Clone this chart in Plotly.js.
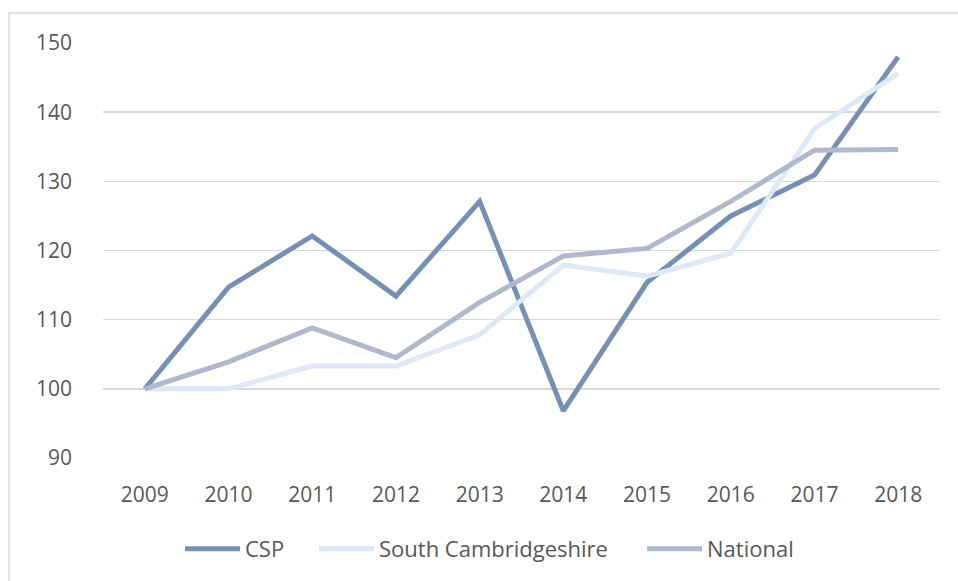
<!DOCTYPE html>
<html>
<head>
<meta charset="utf-8">
<script src="https://cdn.plot.ly/plotly-3.0.1.min.js"></script>
<style>
html,body{margin:0;padding:0;background:#fff;}
#chart{width:958px;height:581px;}
</style>
</head>
<body>
<div id="chart"></div>
<script>
const years = ['2009','2010','2011','2012','2013','2014','2015','2016','2017','2018'];
const csp = [100, 114.7, 122.1, 113.4, 127.1, 96.8, 115.4, 125.0, 130.9, 148.0];
const southCambs = [100, 100, 103.3, 103.3, 107.8, 117.9, 116.3, 119.6, 137.6, 145.6];
const national = [100, 103.9, 108.8, 104.5, 112.5, 119.2, 120.3, 127.1, 134.5, 134.6];
const seriesNames = ['CSP', 'South Cambridgeshire', 'National'];
const seriesColors = ['#7590b6', '#dde9f6', '#aebacc'];
const yTicks = [90, 100, 110, 120, 130, 140, 150];

const fontFamily = '"Open Sans", "Noto Sans", sans-serif';
const tickFont = {family: fontFamily, size: 21, color: '#595959'};
const legendFont = {family: fontFamily, size: 22, color: '#595959'};

const legendKeys = ['legend', 'legend2', 'legend3'];
// left edge of each legend entry, in pixels
const legendLeftPx = [180, 314, 642];

const seriesData = [csp, southCambs, national];
const traces = seriesData.map((vals, i) => ({
  type: 'scatter',
  mode: 'lines',
  x: years,
  y: vals,
  name: seriesNames[i],
  legend: legendKeys[i],
  line: {color: seriesColors[i], width: 5},
  hoverinfo: 'x+y+name'
}));

const plotL = 103, plotW = 837, plotT = 43, plotH = 416;

const layout = {
  width: 958, height: 581,
  margin: {l: plotL, r: 958 - plotL - plotW, t: plotT, b: 581 - plotT - plotH, pad: 0},
  paper_bgcolor: '#ffffff',
  plot_bgcolor: '#ffffff',
  font: tickFont,
  showlegend: true,
  xaxis: {
    type: 'category',
    range: [-0.5, 9.5],
    showgrid: false,
    zeroline: false,
    showline: false,
    ticks: '',
    ticklabelstandoff: 22,
    tickfont: tickFont,
    fixedrange: true
  },
  yaxis: {
    range: [90, 150],
    tickvals: yTicks,
    ticktext: yTicks.map(String),
    showgrid: true,
    gridcolor: '#d9d9d9',
    gridwidth: 1.5,
    zeroline: false,
    showline: false,
    ticks: '',
    ticklabelstandoff: 30,
    tickfont: tickFont,
    fixedrange: true
  },
  shapes: [{
    type: 'rect',
    xref: 'paper', yref: 'paper',
    x0: (9 - plotL) / plotW, x1: 1.2,
    y0: -0.5, y1: (plotT + plotH - 13) / plotH,
    line: {color: '#d9d9d9', width: 1.5},
    fillcolor: 'rgba(0,0,0,0)',
    layer: 'below'
  }]
};

legendKeys.forEach((k, i) => {
  layout[k] = {
    orientation: 'h',
    x: (legendLeftPx[i] - plotL) / plotW, xanchor: 'left',
    y: (plotT + plotH - 549) / plotH, yanchor: 'middle',
    font: legendFont,
    itemwidth: 55,
    bgcolor: 'rgba(0,0,0,0)',
    borderwidth: 0
  };
});

Plotly.newPlot('chart', traces, layout, {displayModeBar: false, staticPlot: true});
</script>
</body>
</html>
